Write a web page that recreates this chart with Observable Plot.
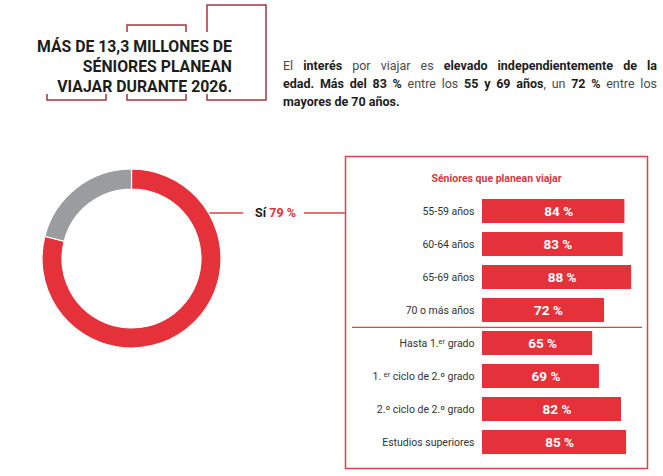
<!DOCTYPE html>
<html>
<head>
<meta charset="utf-8">
<script src="https://cdn.jsdelivr.net/npm/d3@7"></script>
<script src="https://cdn.jsdelivr.net/npm/@observablehq/plot@0.6"></script>
<style>
  body { margin: 0; background: #fff; font-family: Roboto, "Noto Sans", sans-serif; }
  #page { position: relative; width: 663px; height: 476px; overflow: hidden; }
  #header { position: relative; width: 663px; height: 130px; }
  #deco { position: absolute; left: 0; top: 0; }
  #title { position: absolute; right: 431px; top: 36.7px; margin: 0; font-size: 15.8px; line-height: 20px;
           font-weight: 700; text-align: right; color: #1d1d1b; white-space: nowrap; }
  #para { position: absolute; left: 283px; top: 57.2px; width: 374px; margin: 0; font-size: 12.5px;
          line-height: 18px; color: #4a4a4a; }
  #para .l { display: block; text-align: justify; text-align-last: justify; }
  #para .e { display: block; text-align: left; }
  #para b { color: #1d1d1b; font-weight: 700; }
  #chart svg { display: block; }
</style>
</head>
<body>
<div id="page">
  <div id="header">
    <svg id="deco" width="663" height="130">
      <g fill="none" stroke="#a8333f" stroke-width="1.5">
        <path d="M47,94 V100 H106 V94"/>
        <path d="M127,32 V25 H186 V32"/>
        <path d="M127,94 V100 H186 V94"/>
        <path d="M207,32 V5 H266 V100 H207 V94"/>
      </g>
    </svg>
    <h1 id="title">MÁS DE 13,3 MILLONES DE<br>SÉNIORES PLANEAN<br>VIAJAR DURANTE 2026.</h1>
    <p id="para">
      <span class="l">El <b>interés</b> por viajar es <b>elevado independientemente de la</b></span>
      <span class="l"><b>edad. Más del 83 %</b> entre los <b>55 y 69 años</b>, un <b>72 %</b> entre los</span>
      <span class="e"><b>mayores de 70 años.</b></span>
    </p>
  </div>
  <div id="chart"></div>
</div>
<script>
// ---- data ----
const answers = ["Sí", "No"];
const answerShares = [79, 21];
const categories = [
  "55-59 años",
  "60-64 años",
  "65-69 años",
  "70 o más años",
  "Hasta 1.ᵉʳ grado",
  "1. ᵉʳ ciclo de 2.º grado",
  "2.º ciclo de 2.º grado",
  "Estudios superiores"
];
const shares = [84, 83, 88, 72, 65, 69, 82, 85];
const panelTitle = "Séniores que planean viajar";

// ---- tables built from the arrays ----
const donutData = answers.map((a, i) => ({answer: a, share: answerShares[i]}));
const rows = categories.map((c, i) => ({category: c, share: shares[i], label: `${shares[i]} %`}));

const RED = "#e5313a";
const GRAY = "#9b9ca0";
const FRAME = "#d9434e";
const answerColor = d3.scaleOrdinal(answers, [RED, GRAY]);

function donut(index, scales, values, dims) {
  const cx = 131.5, cy = 128.5, ro = 89.5, ri = 69.5;
  const off = 45.5;
  const g = d3.create("svg:g");
  const pie = d3.pie().sort(null).value(d => d.share);
  const arc = d3.arc().innerRadius(ri).outerRadius(ro);
  const ly = cy - off;
  // callout for "Sí" (drawn first so the ring sits on top of its start)
  g.append("path")
    .attr("d", `M200,${ly}H243M304,${ly}H${dims.marginLeft}`)
    .attr("fill", "none")
    .attr("stroke", FRAME)
    .attr("stroke-width", 1.5);
  g.append("g")
    .attr("transform", `translate(${cx},${cy})`)
    .selectAll("path")
    .data(pie(donutData))
    .join("path")
    .attr("d", arc)
    .attr("fill", d => answerColor(d.data.answer))
    .attr("stroke", "#fff")
    .attr("stroke-width", 1.2);
  const si = donutData[0];
  const t = g.append("text").attr("x", 255).attr("y", ly).attr("dy", "0.35em")
    .attr("text-anchor", "start")
    .attr("font-size", 12.5).attr("font-weight", 700).attr("font-family", "Roboto, sans-serif");
  t.append("tspan").attr("fill", "#1d1d1b").text(si.answer + " ");
  t.append("tspan").attr("fill", RED).text(`${si.share} %`);
  return g.node();
}

const chart = Plot.plot({
  width: 663,
  height: 346,
  marginLeft: 345,
  marginRight: 16,
  marginTop: 26,
  marginBottom: 8,
  style: {fontFamily: "Roboto, sans-serif", background: "transparent", overflow: "visible"},
  x: {domain: [0, 100], range: [482, 651.5], axis: null},
  y: {domain: categories, range: [62.2, 330.8], paddingInner: 0.265, paddingOuter: 0.1325, axis: null},
  marks: [
    Plot.frame({stroke: FRAME, strokeWidth: 1.5}),
    Plot.ruleY([categories[3]], {stroke: FRAME, strokeWidth: 1.3, dy: 16.8, insetLeft: 7, insetRight: 5}),
    Plot.text([panelTitle], {frameAnchor: "top", dy: 18, fill: "#d23a47", fontWeight: 700, fontSize: 10.5}),
    Plot.barX(rows, {x: "share", y: "category", fill: RED}),
    Plot.text(rows, {x: 0, y: "category", text: "category", textAnchor: "end", dx: -8, fill: "#333", fontSize: 10.5}),
    Plot.text(rows, {x: d => d.share / 2, y: "category", text: "label", dx: 5, fill: "#fff", fontWeight: 700, fontSize: 13.5}),
    donut
  ]
});
document.getElementById("chart").append(chart);
</script>
</body>
</html>
